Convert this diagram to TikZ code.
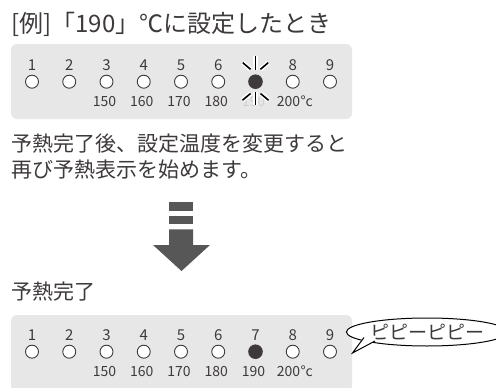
\documentclass[tikz,border=0pt]{standalone}
\usepackage{fontspec}
\setmainfont{Noto Sans CJK JP}
\usetikzlibrary{shapes.geometric}
\definecolor{ink}{RGB}{62,58,58}
\definecolor{panelc}{RGB}{231,231,231}
\definecolor{arrowc}{RGB}{88,87,87}
\definecolor{faint}{RGB}{208,208,208}
\begin{document}
\begin{tikzpicture}[x=1pt,y=-1pt,
  lamp/.style={circle, draw=ink, fill=white, line width=0.9pt, minimum size=13pt, inner sep=0pt},
  lampon/.style={circle, fill=ink, minimum size=14.6pt, inner sep=0pt},
  num/.style={text=ink, font=\fontsize{15}{15}\selectfont, inner sep=0pt},
  temp/.style={text=ink, font=\fontsize{14}{14}\selectfont, inner sep=0pt},
  body/.style={text=ink, font=\fontsize{21}{21}\selectfont, inner sep=0pt, anchor=west},
  panel/.style={fill=panelc, rounded corners=6pt},
  halo/.style={white, line width=4.6pt},
  ray/.style={black, line width=1.6pt}
]
\useasboundingbox (0,0) rectangle (496,388);
\clip (0,0) rectangle (496,388);
\fill[white] (0,0) rectangle (496,388);

% title
\node[body, font=\fontsize{24}{24}\selectfont] (title) at (11,24) {[例]「190」℃に設定したとき};

% panel 1
\fill[panel] (11,44) rectangle (352,119);
\foreach \i in {1,2,3,4,5,6,8,9} {
  \node[lamp] (p\i) at ({32+37.25*(\i-1)},81.7) {};
  \node[num] (n\i) at ({32+37.25*(\i-1)},65.5) {\i};
}
\node[lampon] (p7) at (255.5,81.7) {};
\foreach \i/\t in {3/150,4/160,5/170,6/180} {
  \node[temp] (t\i) at ({30+37.25*(\i-1)},101.5) {\t};
}
\node[temp, text=faint] (t7) at (253.5,101.5) {190};
\node[temp] (t8) at (288.5,101.5) {200};
\node[temp, anchor=base west] (tc) at (t8.base east) {°c};
% flash rays
\foreach \ax/\ay/\bx/\by in {0/-25.7/0/-11.7, -12.7/-19/-5/-12.4, 12.7/-19/5/-12.4, 0/10.5/0/23.5, -5/11.8/-13/18.5, 5/11.8/13/18.5} {
  \draw[halo] ([shift={(\ax,\ay)}]p7.center) -- ([shift={(\bx,\by)}]p7.center);
}
\foreach \ax/\ay/\bx/\by in {0/-25.7/0/-11.7, -12.7/-19/-5/-12.4, 12.7/-19/5/-12.4, 0/10.5/0/23.5, -5/11.8/-13/18.5, 5/11.8/13/18.5} {
  \draw[ray] ([shift={(\ax,\ay)}]p7.center) -- ([shift={(\bx,\by)}]p7.center);
}

% text
\node[body] (line1) at (11,143.5) {予熱完了後、設定温度を変更すると};
\node[body] (line2) at (11,170) {再び予熱表示を始めます。};

% arrow
\fill[arrowc] (169,201.7) rectangle (193,210.7);
\fill[arrowc] (169,216) rectangle (193,224.3);
\fill[arrowc] (169,229.3) -- (193,229.3) -- (193,245) -- (210,245) -- (181.5,271) -- (153,245) -- (169,245) -- cycle;

% bottom
\node[body] (done) at (11,292) {予熱完了};
\fill[panel] (11,315) rectangle (352,392);
\foreach \i in {1,2,3,4,5,6,8,9} {
  \node[lamp] (q\i) at ({32+37.25*(\i-1)},351.7) {};
}
\node[lampon] (q7) at (255.5,351.7) {};
\foreach \i in {1,...,9} {
  \node[num] (m\i) at ({32+37.25*(\i-1)},335.3) {\i};
}
\foreach \i/\t in {3/150,4/160,5/170,6/180,7/190} {
  \node[temp] (u\i) at ({30+37.25*(\i-1)},371.5) {\t};
}
\node[temp] (u8) at (288.5,371.5) {200};
\node[temp, anchor=base west] (uc) at (u8.base east) {°c};

% speech bubble
\node[ellipse, draw=black, fill=white, line width=1pt, minimum width=136pt, minimum height=28pt, inner sep=0pt,
      text=ink, font=\fontsize{19}{19}\selectfont] (bub) at (427,332) {ピピーピピー};
\coordinate (tip) at (352.5,353);
\coordinate (ta) at (364,337.5);
\coordinate (tb) at (375,341);
\fill[white] (ta) -- (tip) -- (tb) -- (376,336) -- (366,334) -- cycle;
\draw[black, line width=1pt, line join=miter] (ta) -- (tip) -- (tb);
\end{tikzpicture}
\end{document}
